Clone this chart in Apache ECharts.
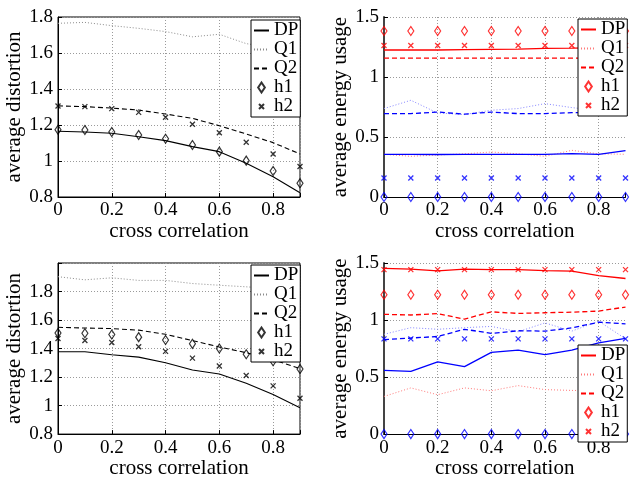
<!DOCTYPE html>
<html><head><meta charset="utf-8">
<script src="https://cdn.jsdelivr.net/npm/echarts@6/dist/echarts.min.js"></script>
<style>html,body{margin:0;padding:0;background:#fff}#c{width:631px;height:480px}</style>
</head><body><div id="c"></div>
<script>
// x values (cross correlation)
const xs = [0, 0.1, 0.2, 0.3, 0.4, 0.5, 0.6, 0.7, 0.8, 0.9];

// Top-left: average distortion
const tlDP = [1.165, 1.161, 1.154, 1.135, 1.113, 1.080, 1.052, 0.987, 0.913, 0.824];
const tlQ1 = [1.765, 1.770, 1.752, 1.737, 1.719, 1.690, 1.704, 1.652, 1.630, 1.600];
const tlQ2 = [1.306, 1.302, 1.294, 1.283, 1.261, 1.237, 1.196, 1.150, 1.102, 1.039];
const tlH1 = [1.174, 1.172, 1.161, 1.144, 1.124, 1.089, 1.052, 1.002, 0.944, 0.876];
const tlH2 = [1.306, 1.302, 1.291, 1.270, 1.243, 1.204, 1.157, 1.104, 1.039, 0.969];

// Top-right: average energy usage (red / blue)
const trDPr = [1.225, 1.225, 1.225, 1.228, 1.230, 1.233, 1.239, 1.240, 1.242, 1.242];
const trQ1r = [0.356, 0.339, 0.350, 0.360, 0.375, 0.360, 0.339, 0.389, 0.360, 0.356];
const trQ2r = [1.158, 1.158, 1.158, 1.158, 1.158, 1.158, 1.158, 1.158, 1.158, 1.158];
const trH1r = [1.383, 1.383, 1.383, 1.383, 1.383, 1.383, 1.383, 1.383, 1.383, 1.383];
const trH2r = [1.262, 1.262, 1.262, 1.262, 1.262, 1.262, 1.262, 1.262, 1.262, 1.262];
const trDPb = [0.356, 0.356, 0.354, 0.355, 0.356, 0.356, 0.356, 0.361, 0.356, 0.386];
const trQ1b = [0.737, 0.806, 0.700, 0.687, 0.723, 0.737, 0.778, 0.745, 0.720, 0.730];
const trQ2b = [0.695, 0.695, 0.708, 0.690, 0.708, 0.695, 0.695, 0.703, 0.705, 0.705];
const trH1b = [0, 0, 0, 0, 0, 0, 0, 0, 0, 0];
const trH2b = [0.158, 0.158, 0.158, 0.158, 0.158, 0.158, 0.158, 0.158, 0.158, 0.158];

// Bottom-left: average distortion
const blDP = [1.378, 1.378, 1.356, 1.340, 1.300, 1.250, 1.222, 1.156, 1.078, 0.984];
const blQ1 = [1.904, 1.882, 1.896, 1.878, 1.878, 1.856, 1.844, 1.833, 1.820, 1.810];
const blQ2 = [1.549, 1.544, 1.540, 1.529, 1.500, 1.456, 1.411, 1.371, 1.322, 1.260];
const blH1 = [1.509, 1.507, 1.498, 1.480, 1.460, 1.433, 1.400, 1.360, 1.311, 1.256];
const blH2 = [1.471, 1.456, 1.442, 1.413, 1.380, 1.333, 1.278, 1.211, 1.138, 1.051];

// Bottom-right: average energy usage (red / blue)
const brDPr = [1.453, 1.447, 1.431, 1.447, 1.442, 1.442, 1.433, 1.428, 1.389, 1.364];
const brQ1r = [0.330, 0.405, 0.345, 0.405, 0.380, 0.425, 0.390, 0.383, 0.380, 0.390];
const brQ2r = [1.050, 1.044, 1.056, 1.008, 1.072, 1.058, 1.064, 1.069, 1.078, 1.114];
const brH1r = [1.222, 1.222, 1.222, 1.222, 1.222, 1.222, 1.222, 1.222, 1.222, 1.222];
const brH2r = [1.442, 1.442, 1.442, 1.442, 1.442, 1.442, 1.442, 1.442, 1.442, 1.442];
const brDPb = [0.558, 0.550, 0.633, 0.592, 0.717, 0.736, 0.697, 0.736, 0.800, 0.840];
const brQ1b = [0.875, 0.933, 0.919, 0.933, 0.944, 0.897, 0.975, 0.903, 0.990, 0.836];
const brQ2b = [0.828, 0.842, 0.856, 0.919, 0.883, 0.906, 0.903, 0.931, 0.981, 0.967];
const brH1b = [0, 0, 0, 0, 0, 0, 0, 0, 0, 0];
const brH2b = [0.835, 0.835, 0.835, 0.835, 0.835, 0.835, 0.835, 0.835, 0.835, 0.835];

const legendNames = ['DP', 'Q1', 'Q2', 'h1', 'h2'];
const xName = 'cross correlation';
const yNameDist = 'average distortion';
const yNameEnergy = 'average energy usage';

const FONT = 'Liberation Serif, DejaVu Serif, serif';
const RED = '#ff0000', BLUE = '#0000ff', BLACK = '#000000';
const X_SYM = 'path://M0,0L10,10M10,0L0,10';
const X_LEG = 'path://M-5,-5M15,15M0,0L10,10M10,0L0,10';
const D_LEG = 'path://M5,0L10,7.5L5,15L0,7.5Z';

const chart = echarts.init(document.getElementById('c'), null, {renderer: 'canvas'});

function fmt(v) {
  return String(+(+v).toFixed(2));
}

const grids = [
  {left: 58, top: 17, width: 242, height: 180, show: true, borderColor: '#000', borderWidth: 1},
  {left: 384, top: 17, width: 241.5, height: 180},
  {left: 58, top: 263, width: 242, height: 180, show: true, borderColor: '#000', borderWidth: 1},
  {left: 384, top: 263, width: 241.5, height: 180}
];

const gridLine = {show: true, lineStyle: {color: '#9a9a9a', type: [1, 2], width: 1}};

function xAxisCfg(i, right) {
  return {
    type: 'value', gridIndex: i, min: 0, max: 0.9, interval: 0.2,
    name: xName, nameLocation: 'middle', nameGap: 15,
    nameTextStyle: {fontFamily: FONT, fontSize: 21, color: '#000'},
    axisLine: {show: true, onZero: false, lineStyle: {color: '#000', width: 1}},
    axisTick: {show: true, inside: true, length: 4, lineStyle: {color: '#000'}},
    axisLabel: {fontFamily: FONT, fontSize: 19, color: '#000', margin: 4,
      formatter: v => (Math.abs(v - 0.9) < 1e-6 ? '' : fmt(v))},
    splitLine: Object.assign({showMaxLine: !right}, gridLine)
  };
}

function yAxisCfg(i, name, min, max, interval, right) {
  return {
    type: 'value', gridIndex: i, min: min, max: max, interval: interval,
    name: name, nameLocation: 'middle', nameGap: 30,
    nameTextStyle: {fontFamily: FONT, fontSize: 21, color: '#000'},
    axisLine: {show: true, onZero: false, lineStyle: {color: right ? '#444' : '#000', width: right ? 2 : 1}},
    axisTick: {show: true, inside: true, length: 4, lineStyle: {color: '#000'}},
    axisLabel: {fontFamily: FONT, fontSize: 19, color: '#000', margin: 5,
      formatter: v => (Math.abs(v - 2) < 1e-6 ? '' : fmt(v))},
    splitLine: gridLine
  };
}

function pts(arr) { return xs.map((x, k) => [x, arr[k]]); }

function line(name, arr, gi, color, type, width) {
  return {
    type: 'line', name: name, xAxisIndex: gi, yAxisIndex: gi, data: pts(arr),
    symbol: 'none', animation: false, z: 2,
    lineStyle: {color: color, type: type, width: width},
    itemStyle: {color: color}
  };
}
function diamonds(name, arr, gi, color) {
  return {
    type: 'scatter', name: name, xAxisIndex: gi, yAxisIndex: gi, data: pts(arr),
    symbol: 'diamond', symbolSize: [6, 9], animation: false, z: 3,
    itemStyle: {color: 'rgba(0,0,0,0)', borderColor: color, borderWidth: 1.2}
  };
}
function crosses(name, arr, gi, color) {
  return {
    type: 'scatter', name: name, xAxisIndex: gi, yAxisIndex: gi, data: pts(arr),
    symbol: X_SYM, symbolSize: 5, animation: false, z: 3,
    itemStyle: {color: 'rgba(0,0,0,0)', borderColor: color, borderWidth: 1.3}
  };
}

function panelSet(suffix, gi, c, q1c, dp, q1, q2, h1, h2, w) {
  return [
    line('DP' + suffix, dp, gi, c, 'solid', w),
    line('Q1' + suffix, q1, gi, q1c, [1, 2], 1),
    line('Q2' + suffix, q2, gi, c, [5, 3], w),
    diamonds('h1' + suffix, h1, gi, c),
    crosses('h2' + suffix, h2, gi, c)
  ];
}

const series = [].concat(
  panelSet('_a', 0, BLACK, '#8c8c8c', tlDP, tlQ1, tlQ2, tlH1, tlH2, 1.1),
  panelSet('_b', 1, RED, '#ff7a7a', trDPr, trQ1r, trQ2r, trH1r, trH2r, 1.3),
  panelSet('_bb', 1, BLUE, '#8585ff', trDPb, trQ1b, trQ2b, trH1b, trH2b, 1.3),
  panelSet('_c', 2, BLACK, '#8c8c8c', blDP, blQ1, blQ2, blH1, blH2, 1.1),
  panelSet('_d', 3, RED, '#ff7a7a', brDPr, brQ1r, brQ2r, brH1r, brH2r, 1.3),
  panelSet('_dd', 3, BLUE, '#8585ff', brDPb, brQ1b, brQ2b, brH1b, brH2b, 1.3)
);

function legendCfg(suffix, left, top) {
  return {
    orient: 'vertical', left: left, top: top,
    backgroundColor: '#fff', borderColor: '#000', borderWidth: 1, borderRadius: 0,
    padding: [1, 2, 1, 2], itemGap: 0, itemWidth: 15, itemHeight: 10,
    selectedMode: false,
    textStyle: {fontFamily: FONT, fontSize: 19, color: '#000', lineHeight: 19},
    formatter: n => n.split('_')[0],
    data: legendNames.map(n => {
      const o = {name: n + suffix};
      if (n === 'h1') o.icon = D_LEG;
      else if (n === 'h2') o.icon = X_LEG;
      else o.itemStyle = {opacity: 0};
      return o;
    })
  };
}

chart.setOption({
  animation: false,
  backgroundColor: '#fff',
  grid: grids,
  xAxis: [xAxisCfg(0, false), xAxisCfg(1, true), xAxisCfg(2, false), xAxisCfg(3, true)],
  yAxis: [
    yAxisCfg(0, yNameDist, 0.8, 1.8, 0.2, false),
    yAxisCfg(1, yNameEnergy, 0, 1.5, 0.5, true),
    yAxisCfg(2, yNameDist, 0.8, 2.0, 0.2, false),
    yAxisCfg(3, yNameEnergy, 0, 1.5, 0.5, true)
  ],
  legend: [
    legendCfg('_a', 251, 20),
    legendCfg('_b', 578, 19),
    legendCfg('_c', 251, 265),
    legendCfg('_d', 578, 345)
  ],
  series: series
});
</script>
</body></html>
